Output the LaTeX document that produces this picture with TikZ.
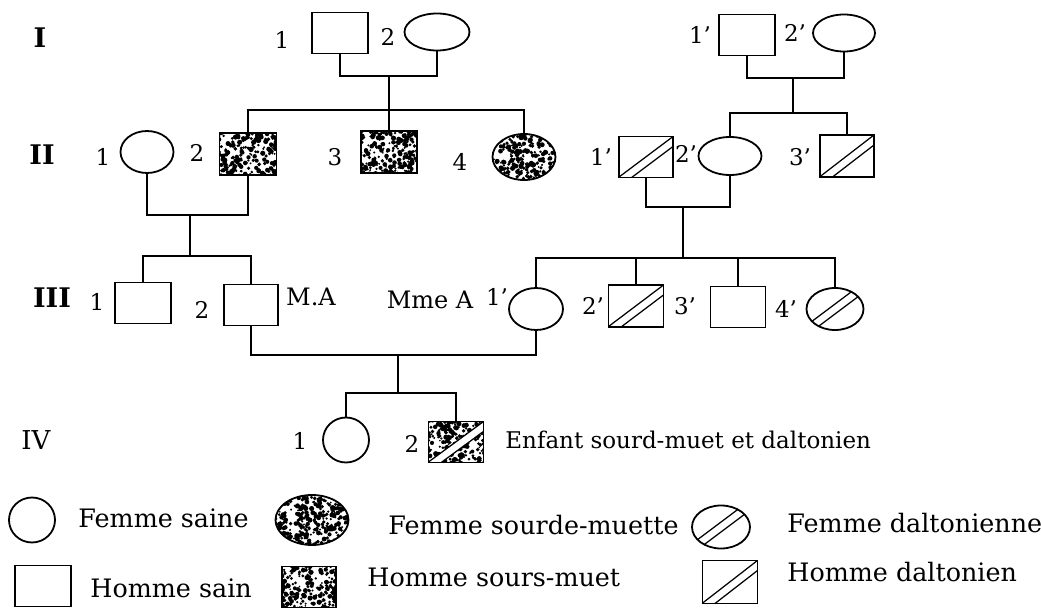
\documentclass[tikz,border=0pt]{standalone}
\usepackage{fontspec}
\setmainfont{DejaVu Serif}
\usetikzlibrary{calc,shapes.geometric}
\newcommand{\speckles}{\foreach \k in {1,...,330}{\fill ($(path picture bounding box.center)+({(rnd-0.5)*76},{(rnd-0.5)*52})$) circle ({0.45pt+0.85pt*rnd});}}
\newcommand{\stripes}{\draw[line width=0.7pt,double=white,double distance=3.2pt,shorten <=-6pt,shorten >=-6pt] ($(path picture bounding box.south west)+(6,0)$) -- ($(path picture bounding box.north east)+(0,5)$);}
\newcommand{\stripese}{\draw[line width=0.7pt,double=white,double distance=3.2pt] ($(path picture bounding box.center)+(-40,30)$) -- ($(path picture bounding box.center)+(40,-30)$);}
\tikzset{
  ln/.style={line width=0.9pt},
  ml/.style={rectangle,draw,line width=0.9pt,minimum width=28pt,minimum height=20.5pt,inner sep=0pt},
  fm/.style={ellipse,draw,line width=0.9pt,inner sep=0pt},
  spk/.style={path picture={\speckles}},
  dlt/.style={path picture={\stripes}},
  dlte/.style={path picture={\stripese}},
  sdl/.style={path picture={\speckles\stripes}},
  nm/.style={font=\fontsize{11.5}{13}\selectfont,inner sep=1pt},
  gen/.style={font=\fontsize{13.5}{15}\selectfont\bfseries},
  txt/.style={anchor=west,inner sep=0pt,font=\fontsize{12.7}{14}\selectfont}
}
\begin{document}
\begin{tikzpicture}[x=0.5pt,y=-0.5pt]
\pgfmathsetseed{12}
\useasboundingbox (0,0) rectangle (1041,610);
% generations
\node[gen] (gI) at (40,38) {I}; \node[gen] (gII) at (42,155) {II}; \node[gen] (gIII) at (52,298) {III};
\node[font=\fontsize{13}{15}\selectfont] (gIV) at (36,440) {IV};
% generation I
\node[ml] (I1) at (340,33) {}; \node[fm,minimum width=32.5pt,minimum height=18.5pt] (I2) at (437,32) {};
\node[nm] (nI1) at (282,40) {1}; \node[nm] (nI2) at (388,37) {2};
\node[ml] (I1p) at (747,35) {}; \node[fm,minimum width=31pt,minimum height=18.5pt] (I2p) at (844,33) {};
\node[nm] (nI1p) at (700,35) {1'}; \node[nm] (nI2p) at (795,33) {2'};
% generation II
\node[fm,minimum width=26.5pt,minimum height=21pt] (II1) at (147,152) {};
\node[ml,spk,minimum width=28.5pt,minimum height=21pt] (II2) at (248,154) {};
\node[ml,spk,minimum height=21pt] (II3) at (389,152) {};
\node[fm,spk,minimum width=31.5pt,minimum height=23pt] (II4) at (524,157) {};
\node[ml,dlt,minimum width=27pt] (II1p) at (646,157) {};
\node[fm,minimum width=31.5pt,minimum height=19pt] (II2p) at (730,156) {};
\node[ml,dlt,minimum width=27pt,minimum height=21pt] (II3p) at (847,156) {};
\node[nm] (nII1) at (103,157) {1}; \node[nm] (nII2) at (197,153) {2}; \node[nm] (nII3) at (335,157) {3}; \node[nm] (nII4) at (460,162) {4};
\node[nm] (nII1p) at (601,157) {1'}; \node[nm] (nII2p) at (686,154) {2'}; \node[nm] (nII3p) at (800,157) {3'};
% generation III
\node[ml] (III1) at (143,303) {}; \node[ml,minimum width=27pt] (III2) at (251,305) {};
\node[fm,minimum width=27pt,minimum height=21pt] (III1p) at (536,309) {};
\node[ml,dlt,minimum width=27.5pt,minimum height=21pt] (III2p) at (636,306) {};
\node[ml,minimum width=27.5pt] (III3p) at (738,307) {};
\node[fm,dlte,minimum width=28.5pt,minimum height=21pt] (III4p) at (835,309) {};
\node[nm] (nIII1) at (97,302) {1}; \node[nm] (nIII2) at (202,310) {2};
\node[nm,font=\fontsize{12}{14}\selectfont] (MA) at (311,297) {M.A}; \node[nm,font=\fontsize{12}{14}\selectfont] (MmeA) at (430,300) {Mme A};
\node[nm] (nIII1p) at (497,297) {1'}; \node[nm] (nIII2p) at (593,306) {2'}; \node[nm] (nIII3p) at (685,306) {3'}; \node[nm] (nIII4p) at (786,309) {4'};
% generation IV
\node[fm,minimum width=23pt,minimum height=22.5pt] (IV1) at (346,440) {};
\node[ml,sdl,minimum width=27.5pt] (IV2) at (456,442) {};
\node[nm] (nIV1) at (300,441) {1}; \node[nm] (nIV2) at (412,444) {2};
\node[txt,font=\fontsize{11.5}{13}\selectfont] (enf) at (505,440) {Enfant sourd-muet et daltonien};
% couples and children
\coordinate (mI) at (389,76); \coordinate (sI) at (389,110);
\draw[ln] (I1.south) |- (mI) -| (I2.south); \draw[ln] (mI) -- (II3.north);
\draw[ln] (II2.north) |- (sI) -| (II4.north);
\coordinate (mIp) at (793,78); \coordinate (sIp) at (793,113);
\draw[ln] (I1p.south) |- (mIp) -| (I2p.south); \draw[ln] (mIp) -- (sIp);
\draw[ln] (II2p.north) |- (sIp) -| (II3p.north);
\coordinate (mII) at (190,215); \coordinate (sII) at (190,256);
\draw[ln] (II1.south) |- (mII) -| (II2.south); \draw[ln] (mII) -- (sII);
\draw[ln] (III1.north) |- (sII) -| (III2.north);
\coordinate (mIIp) at (683,207); \coordinate (sIIp) at (683,258);
\draw[ln] (II1p.south) |- (mIIp) -| (II2p.south); \draw[ln] (mIIp) -- (sIIp);
\draw[ln] (III1p.north) |- (sIIp) -| (III4p.north);
\draw[ln] (III2p.north) -- (III2p.north |- sIIp); \draw[ln] (III3p.north) -- (III3p.north |- sIIp);
\coordinate (mIII) at (398,355); \coordinate (sIII) at (398,393);
\draw[ln] (III2.south) |- (mIII) -| (III1p.south); \draw[ln] (mIII) -- (sIII);
\draw[ln] (IV1.north) |- (sIII) -| (IV2.north);
% legend
\node[fm,minimum width=23pt,minimum height=22.5pt] (lg1) at (32,520) {}; \node[txt] (tl1) at (78,518) {Femme saine};
\node[fm,spk,minimum width=36.5pt,minimum height=25pt] (lg2) at (312,520) {}; \node[txt] (tl2) at (388,525) {Femme sourde-muette};
\node[fm,dlte,minimum width=29pt,minimum height=21.5pt] (lg3) at (721,527) {}; \node[txt] (tl3) at (787,523) {Femme daltonienne};
\node[ml] (lg4) at (43,586) {}; \node[txt] (tl4) at (90,588) {Homme sain};
\node[ml,spk,minimum width=27pt] (lg5) at (309,587) {}; \node[txt] (tl5) at (367,577) {Homme sours-muet};
\node[ml,dlt,minimum width=27.5pt,minimum height=21.5pt] (lg6) at (730,582) {}; \node[txt] (tl6) at (787,572) {Homme daltonien};
\end{tikzpicture}
\end{document}
